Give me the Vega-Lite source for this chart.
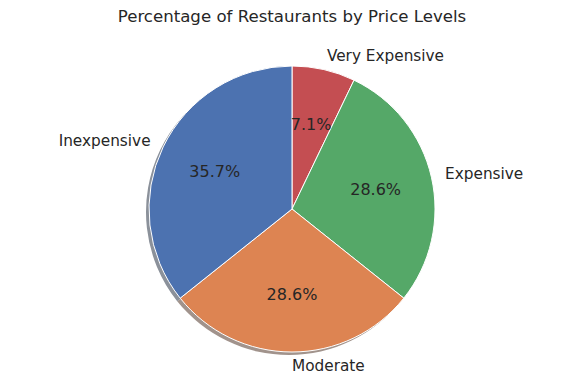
{
  "$schema": "https://vega.github.io/schema/vega-lite/v6.json",
  "width": 584,
  "height": 350,
  "autosize": "none",
  "padding": {"top": 34, "left": 0, "right": 0, "bottom": 0},
  "background": "white",
  "title": {"text": "Percentage of Restaurants by Price Levels", "font": "DejaVu Sans", "fontSize": 16.6, "fontWeight": "normal", "color": "#262626", "anchor": "middle", "offset": 8},
  "data": {"values": [
    {"level": "Very Expensive", "share": 0.0714, "idx": 1},
    {"level": "Expensive", "share": 0.2857, "idx": 2},
    {"level": "Moderate", "share": 0.2857, "idx": 3},
    {"level": "Inexpensive", "share": 0.3571, "idx": 4}
  ]},
  "encoding": {
    "theta": {"field": "share", "type": "quantitative", "stack": true},
    "order": {"field": "idx", "type": "quantitative"}
  },
  "layer": [
    {
      "mark": {"type": "arc", "outerRadius": 143, "xOffset": -3, "yOffset": 3},
      "encoding": {"color": {"field": "level", "type": "nominal", "legend": null,
        "scale": {"domain": ["Inexpensive", "Moderate", "Expensive", "Very Expensive"], "range": ["#8b919a", "#a1938c", "#8c998f", "#9d8b8c"]}}}
    },
    {
      "mark": {"type": "arc", "outerRadius": 143, "stroke": "white", "strokeWidth": 1},
      "encoding": {"color": {"field": "level", "type": "nominal", "legend": null,
        "scale": {"domain": ["Inexpensive", "Moderate", "Expensive", "Very Expensive"], "range": ["#4c72b0", "#dd8452", "#55a868", "#c44e52"]}}}
    },
    {
      "mark": {"type": "text", "radius": 85.8, "font": "DejaVu Sans", "fontSize": 16, "color": "#262626", "baseline": "middle", "align": "center"},
      "encoding": {"text": {"field": "share", "type": "quantitative", "format": ".1%"}}
    },
    {
      "mark": {"type": "text", "radius": 157, "font": "DejaVu Sans", "fontSize": 15.3, "color": "#262626", "baseline": "middle",
        "align": {"expr": "datum.level === 'Inexpensive' ? 'right' : 'left'"}},
      "encoding": {"text": {"field": "level", "type": "nominal"}}
    }
  ],
  "resolve": {"scale": {"color": "independent"}},
  "config": {"view": {"stroke": null}}
}
